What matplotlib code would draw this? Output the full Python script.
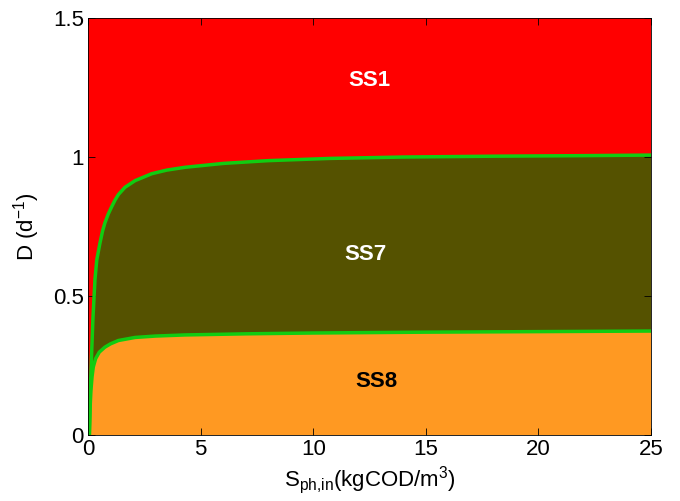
import matplotlib
matplotlib.use("Agg")
import matplotlib.pyplot as plt
import numpy as np

plt.rcParams['font.family'] = ['Liberation Sans', 'DejaVu Sans']
plt.rcParams['mathtext.fontset'] = 'custom'
plt.rcParams['mathtext.rm'] = 'Liberation Sans'
plt.rcParams['mathtext.it'] = 'Liberation Sans'
plt.rcParams['mathtext.bf'] = 'Liberation Sans:bold'

# Upper boundary (SS1 / SS7): influent substrate (kgCOD/m3) vs dilution rate (1/d)
S_upper = [0.06, 0.10, 0.15, 0.22, 0.31, 0.39, 0.53, 0.65, 0.75, 0.9, 1.05, 1.2, 1.35,
           1.64, 2.09, 2.83, 3.5, 4.3, 6.0, 8.0, 10.75, 14, 18, 22, 25]
D_upper = [0.0, 0.15, 0.27, 0.42, 0.56, 0.63, 0.69, 0.735, 0.763, 0.795, 0.821, 0.845, 0.865,
           0.891, 0.915, 0.940, 0.953, 0.963, 0.977, 0.987, 0.995, 1.000, 1.003, 1.005, 1.007]

# Lower boundary (SS7 / SS8)
S_lower = [0.06, 0.10, 0.13, 0.18, 0.235, 0.34, 0.5, 0.75, 1.0, 1.35, 2.09, 3.0, 4.3,
           7, 10, 15, 20, 25]
D_lower = [0.0, 0.11, 0.16, 0.21, 0.245, 0.275, 0.298, 0.316, 0.328, 0.340, 0.351, 0.356,
           0.360, 0.364, 0.367, 0.370, 0.372, 0.374]

labels = ['SS1', 'SS7', 'SS8']
label_pos_x = [12.5, 12.3, 12.8]
label_pos_y = [1.277, 0.651, 0.194]
label_colors = ['white', 'white', 'black']

fig = plt.figure(figsize=(6.8, 5.01), dpi=100)
ax = fig.add_axes([0.1294, 0.1317, 0.8280, 0.8323])

Su, Du = np.array(S_upper), np.array(D_upper)
Sl, Dl = np.array(S_lower), np.array(D_lower)

# red region: above the upper boundary
ax.fill(np.r_[0, Su, 25, 0], np.r_[0, Du, 1.5, 1.5], color='#FF0000', lw=0)
# olive region: between the boundaries
ax.fill(np.r_[Su, Sl[::-1]], np.r_[Du, Dl[::-1]], color='#555200', lw=0)
# orange region: below the lower boundary
ax.fill(np.r_[Sl, 25], np.r_[Dl, 0], color='#FF9922', lw=0)

ax.plot(Su, Du, color='#11CC11', lw=2.5, solid_joinstyle='round')
ax.plot(Sl, Dl, color='#11CC11', lw=2.5, solid_joinstyle='round')

for t, x, y, c in zip(labels, label_pos_x, label_pos_y, label_colors):
    ax.text(x, y, t, color=c, fontsize=16, fontweight='bold', ha='center', va='center')

ax.set_xlim(0, 25)
ax.set_ylim(0, 1.5)
ax.set_xticks([0, 5, 10, 15, 20, 25])
ax.set_xticklabels(['0', '5', '10', '15', '20', '25'])
ax.set_yticks([0, 0.5, 1, 1.5])
ax.set_yticklabels(['0', '0.5', '1', '1.5'])
ax.tick_params(direction='in', top=True, right=True, labelsize=16, length=5, width=0.6, pad=3)
for sp in ax.spines.values():
    sp.set_linewidth(0.6)
    sp.set_zorder(5)

ax.set_xlabel(r'S$_{\mathrm{ph{,}in}}$(kgCOD/m$^{3}$)', fontsize=16, labelpad=3)
ax.set_ylabel(r'D (d$^{-1}$)', fontsize=16, labelpad=8)

fig.savefig('out.png', dpi=100)
